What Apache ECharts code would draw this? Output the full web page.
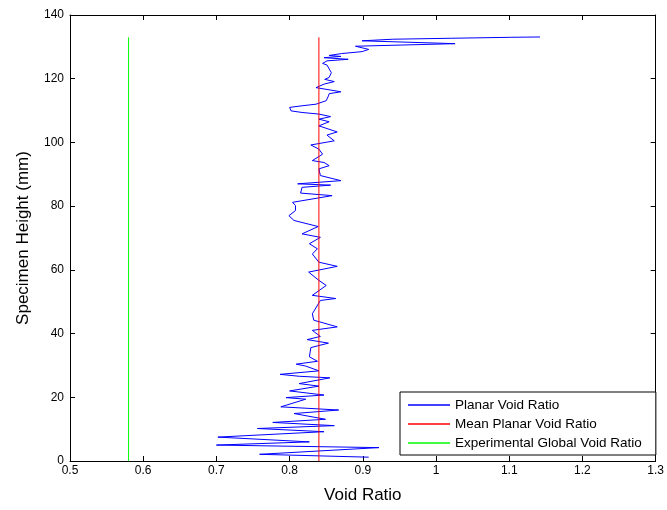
<!DOCTYPE html>
<html>
<head>
<meta charset="utf-8">
<script src="https://cdn.jsdelivr.net/npm/echarts@6/dist/echarts.min.js"></script>
<style>
  html, body { margin: 0; padding: 0; background: #fff; }
  #chart { width: 667px; height: 510px; }
</style>
</head>
<body>
<div id="chart"></div>
<script>
// Specimen heights (mm), bottom to top
const heights = [
  1.2, 2.1, 4.2, 5.0, 6.0, 7.5, 9.2, 10.2, 11.1, 12.1, 13.1, 14.9, 16.0, 17.0,
  19.4, 19.9, 20.7, 22.0, 23.5, 24.3, 26.1, 26.6, 27.2, 28.3, 29.8, 30.4, 31.3,
  32.7, 35.6, 37.0, 38.1, 39.1, 41.0, 42.1, 44.2, 46.2, 50.4, 51.0, 52.0, 55.1,
  56.7, 59.3, 61.1, 62.4, 65.0, 66.6, 68.2, 70.2, 71.3, 73.6, 75.5, 77.0, 78.6,
  80.2, 81.2, 83.3, 84.1, 85.9, 86.6, 87.0, 88.0, 89.6, 91.7, 92.7, 93.7, 94.3,
  96.3, 97.9, 99.2, 100.5, 102.3, 103.3, 105.2, 106.5, 107.3, 108.1, 108.9,
  109.4, 109.9, 111.0, 111.5, 112.0, 113.1, 114.6, 115.3, 115.9, 117.2, 118.3,
  119.1, 119.8, 120.4, 121.9, 124.3, 124.8, 125.6, 126.1, 126.6, 127.0, 127.3,
  127.9, 128.5, 129.2, 130.2, 131.0, 131.9, 132.4, 132.7, 133.0, 133.1
];
// Planar void ratio at each height
const planarVoid = [
  0.908, 0.759, 0.922, 0.700, 0.827, 0.702, 0.847, 0.756, 0.861, 0.777, 0.849, 0.806, 0.867, 0.788,
  0.822, 0.795, 0.847, 0.800, 0.840, 0.813, 0.855, 0.813, 0.787, 0.840, 0.822, 0.809, 0.838,
  0.827, 0.829, 0.853, 0.824, 0.842, 0.831, 0.865, 0.833, 0.831, 0.842, 0.863, 0.831, 0.850,
  0.840, 0.826, 0.865, 0.840, 0.831, 0.838, 0.827, 0.842, 0.817, 0.839, 0.806, 0.799, 0.808,
  0.808, 0.804, 0.858, 0.815, 0.817, 0.856, 0.811, 0.870, 0.842, 0.840, 0.854, 0.847, 0.831,
  0.845, 0.840, 0.829, 0.861, 0.851, 0.865, 0.840, 0.854, 0.840, 0.856, 0.840,
  0.817, 0.802, 0.800, 0.817, 0.836, 0.850, 0.853, 0.854, 0.870, 0.836, 0.847,
  0.861, 0.848, 0.854, 0.857, 0.851, 0.845, 0.851, 0.880, 0.847, 0.870, 0.854,
  0.871, 0.899, 0.908, 0.890, 1.026, 0.899, 0.941, 1.021, 1.102, 1.142
];
// Reference levels
const meanPlanarVoid = 0.84;
const globalVoid = 0.58;
const refHeightRange = [0, 133];

// Axis ranges and tick steps
const xRange = [0.5, 1.3], xStep = 0.1;
const yRange = [0, 140], yStep = 20;

const seriesNames = ['Planar Void Ratio', 'Mean Planar Void Ratio', 'Experimental Global Void Ratio'];
const seriesColors = ['#0000ff', '#ff0000', '#00ff00'];

const font = 'Liberation Sans, Arial, Helvetica, sans-serif';

const chart = echarts.init(document.getElementById('chart'), null, { renderer: 'canvas' });

const baseAxis = {
  type: 'value',
  axisLine: { show: true, onZero: false, lineStyle: { color: '#000', width: 1 } },
  axisTick: { show: true, inside: true, length: 5, lineStyle: { color: '#000' } },
  splitLine: { show: false },
  axisLabel: { color: '#000', fontFamily: font, fontSize: 12 }
};

chart.setOption({
  animation: false,
  backgroundColor: '#fff',
  grid: { left: 70, right: 8, top: 15, bottom: 49, containLabel: false },
  xAxis: [
    Object.assign({}, baseAxis, {
      min: xRange[0], max: xRange[1], interval: xStep, position: 'bottom',
      name: 'Void Ratio', nameLocation: 'middle', nameGap: 26,
      nameTextStyle: { color: '#000', fontFamily: font, fontSize: 17 },
      axisLabel: Object.assign({}, baseAxis.axisLabel, { margin: 4, formatter: v => String(+v.toFixed(1)) })
    }),
    Object.assign({}, baseAxis, {
      min: xRange[0], max: xRange[1], interval: xStep, position: 'top',
      axisLabel: { show: false }
    })
  ],
  yAxis: [
    Object.assign({}, baseAxis, {
      min: yRange[0], max: yRange[1], interval: yStep, position: 'left',
      name: 'Specimen Height (mm)', nameLocation: 'middle', nameGap: 38,
      nameTextStyle: { color: '#000', fontFamily: font, fontSize: 17 },
      axisLabel: Object.assign({}, baseAxis.axisLabel, { margin: 6 })
    }),
    Object.assign({}, baseAxis, {
      min: yRange[0], max: yRange[1], interval: yStep, position: 'right',
      axisLabel: { show: false }
    })
  ],
  legend: {
    orient: 'vertical',
    left: 400, top: 392,
    backgroundColor: '#fff',
    borderColor: '#000', borderWidth: 1, borderRadius: 0,
    padding: [6, 14, 5, 8],
    itemGap: 5,
    itemWidth: 42, itemHeight: 1.5,
    icon: 'rect',
    textStyle: { color: '#000', fontFamily: font, fontSize: 13.5, lineHeight: 14 },
    data: seriesNames
  },
  series: [
    {
      name: seriesNames[0], type: 'line', showSymbol: false, symbol: 'none',
      color: seriesColors[0], lineStyle: { width: 1, color: seriesColors[0] },
      data: heights.map((h, i) => [planarVoid[i], h])
    },
    {
      name: seriesNames[1], type: 'line', showSymbol: false, symbol: 'none',
      color: seriesColors[1], lineStyle: { width: 1, color: seriesColors[1] },
      data: refHeightRange.map(h => [meanPlanarVoid, h])
    },
    {
      name: seriesNames[2], type: 'line', showSymbol: false, symbol: 'none',
      color: seriesColors[2], lineStyle: { width: 1, color: seriesColors[2] },
      data: refHeightRange.map(h => [globalVoid, h])
    }
  ]
});
</script>
</body>
</html>
